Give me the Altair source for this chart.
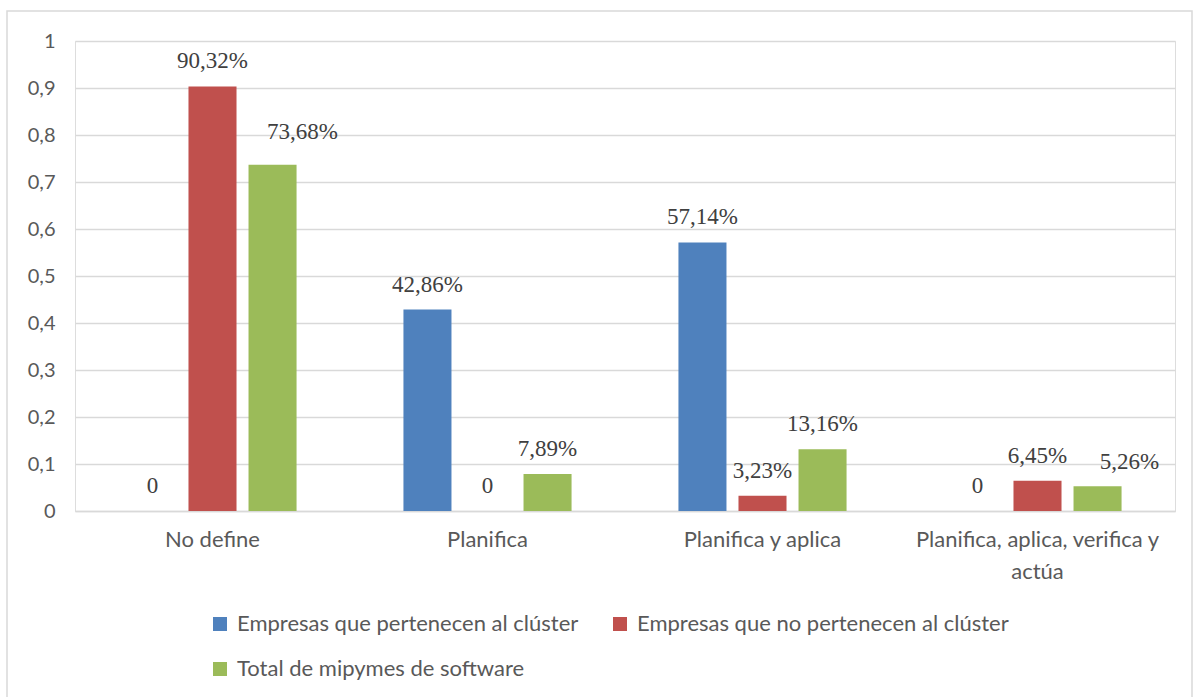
import altair as alt
import pandas as pd

categories = ["No define", "Planifica", "Planifica y aplica", "Planifica, aplica, verifica y actúa"]
series = ["Empresas que pertenecen al clúster", "Empresas que no pertenecen al clúster", "Total de mipymes de software"]
values_cluster = [0.0, 0.4286, 0.5714, 0.0]
values_no_cluster = [0.9032, 0.0, 0.0323, 0.0645]
values_total = [0.7368, 0.0789, 0.1316, 0.0526]
colors = ["#4F81BD", "#C0504D", "#9BBB59"]

rows = []
for s, vals in zip(series, [values_cluster, values_no_cluster, values_total]):
    for c, v in zip(categories, vals):
        lab = "0" if v == 0 else (f"{v*100:.2f}%").replace(".", ",")
        rows.append({"categoria": c, "serie": s, "valor": v, "etiqueta": lab})
df = pd.DataFrame(rows)

W, H = 1100, 470
x_enc = alt.X("categoria:N", sort=categories, title=None,
              scale=alt.Scale(paddingInner=0.345, paddingOuter=0.1725),
              axis=alt.Axis(labelAngle=0, labelFontSize=22, labelColor="#595959", labelFont="Lato",
                            ticks=False, domainColor="#d9d9d9", domainWidth=1.5, labelPadding=18,
                            labelLineHeight=32, labelLimit=400,
                            labelExpr="datum.label == 'Planifica, aplica, verifica y actúa' ? ['Planifica, aplica, verifica y', 'actúa'] : datum.label"))
xoff = alt.XOffset("serie:N", sort=series, scale=alt.Scale(paddingInner=0.2, paddingOuter=0.1))
y_enc = alt.Y("valor:Q", title=None,
              scale=alt.Scale(domain=[0, 1], nice=False),
              axis=alt.Axis(values=[i / 10 for i in range(11)], labelFontSize=20, labelColor="#595959",
                            labelFont="Lato", ticks=False, domain=False, gridColor="#d9d9d9",
                            gridWidth=1.5, labelPadding=20,
                            labelExpr="replace(format(datum.value, '.1~f'), '.', ',')"))

base = alt.Chart(df)

bars = base.mark_bar().encode(
    x=x_enc, xOffset=xoff, y=y_enc,
    color=alt.Color("serie:N", sort=series, scale=alt.Scale(domain=series, range=colors),
                    legend=alt.Legend(title=None, orient="none", legendX=134, legendY=572, columns=2,
                                      direction="horizontal", symbolType="square", symbolSize=196,
                                      symbolStrokeWidth=0, labelFontSize=22, labelColor="#595959",
                                      labelFont="Lato", labelLimit=500, columnPadding=30,
                                      rowPadding=23, labelOffset=6)),
)

moved_high = "73,68%"
moved_side = "5,26%"
txt = dict(font="Liberation Serif", fontSize=23, color="#404040", baseline="middle")
enc = dict(x=x_enc, xOffset=xoff, y=alt.Y("valor:Q"), text="etiqueta:N")

labels = base.transform_filter(
    (alt.datum.etiqueta != moved_high) & (alt.datum.etiqueta != moved_side)
).mark_text(dy=-25, **txt).encode(**enc)
labels_high = base.transform_filter(alt.datum.etiqueta == moved_high).mark_text(
    dy=-33, dx=30, **txt).encode(**enc)
labels_side = base.transform_filter(alt.datum.etiqueta == moved_side).mark_text(
    dy=-24, dx=32, **txt).encode(**enc)

border = alt.Chart(pd.DataFrame({"a": [0]})).mark_rect(
    fill=None, stroke="#d9d9d9", strokeWidth=1.5
).encode(x=alt.value(-68), x2=alt.value(1117), y=alt.value(-30), y2=alt.value(700))

chart = alt.layer(border, bars, labels, labels_high, labels_side).properties(
    width=W, height=H,
    autosize=alt.AutoSizeParams(type="none"),
    padding={"left": 75, "top": 41, "right": 18, "bottom": 186},
).configure_view(stroke=None).configure(background="white")

chart.save("out.html", embed_options={"renderer": "svg", "actions": False})
